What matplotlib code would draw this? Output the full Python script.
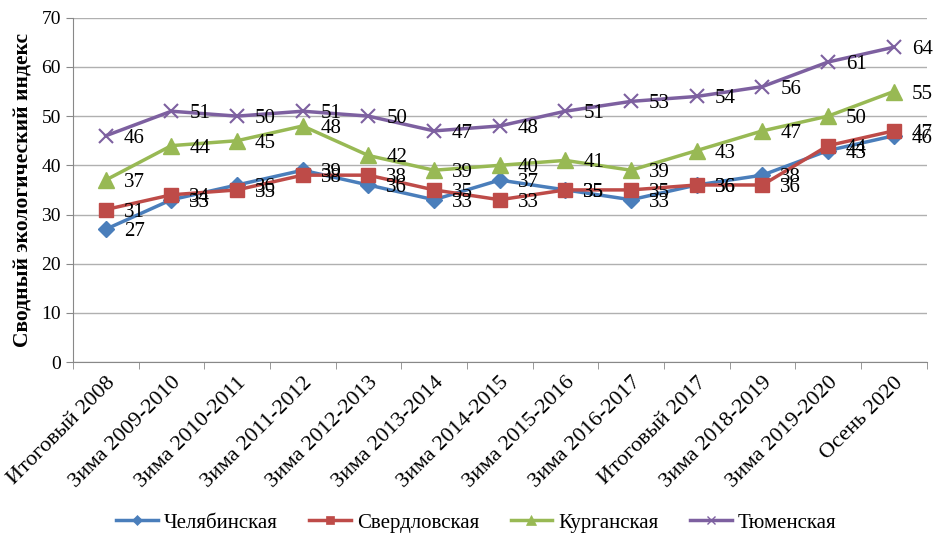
import matplotlib.pyplot as plt
import numpy as np

plt.rcParams['font.family'] = ['Liberation Serif', 'DejaVu Serif']

periods = ['Итоговый 2008', 'Зима 2009-2010', 'Зима 2010-2011', 'Зима 2011-2012',
           'Зима 2012-2013', 'Зима 2013-2014', 'Зима 2014-2015', 'Зима 2015-2016',
           'Зима 2016-2017', 'Итоговый 2017', 'Зима 2018-2019', 'Зима 2019-2020',
           'Осень 2020']
chel = [27, 33, 36, 39, 36, 33, 37, 35, 33, 36, 38, 43, 46]
sverd = [31, 34, 35, 38, 38, 35, 33, 35, 35, 36, 36, 44, 47]
kurgan = [37, 44, 45, 48, 42, 39, 40, 41, 39, 43, 47, 50, 55]
tyumen = [46, 51, 50, 51, 50, 47, 48, 51, 53, 54, 56, 61, 64]

series = [
    ('Челябинская', chel, '#4a7ebb', 'D', 8),
    ('Свердловская', sverd, '#be4b48', 's', 10),
    ('Курганская', kurgan, '#98b954', '^', 11),
    ('Тюменская', tyumen, '#7d60a0', 'x', 10),
]

fig = plt.figure(figsize=(9.34, 5.38), dpi=100)
ax = fig.add_axes([0.078, 0.327, 0.914, 0.64])
x = list(range(len(periods)))
handles = []
for name, vals, col, mk, ms in series:
    ax.plot(x, vals, color=col, lw=2.5, marker=mk, markersize=ms,
            markeredgewidth=1.5 if mk == 'x' else 1, markeredgecolor=col)
    h, = ax.plot([], [], color=col, lw=2.5, marker=mk, markersize=ms * 0.6,
                 markeredgewidth=1 if mk == 'x' else 0.5, markeredgecolor=col, label=name)
    handles.append(h)
    for xi, v in zip(x, vals):
        ax.annotate(str(v), (xi, v), xytext=(13, 0), textcoords='offset points',
                    fontsize=15, va='center_baseline', ha='left', color='black')

ax.set_xlim(-0.5, len(periods) - 0.5)
ax.set_ylim(0, 70)
ax.set_yticks(range(0, 71, 10))
ax.set_xticks(x)
ax.set_xticks(np.arange(-0.5, len(periods), 1), minor=True)
ax.set_xticklabels(periods, rotation=45, ha='right', rotation_mode='anchor', fontsize=16)
ax.tick_params(axis='y', labelsize=14, length=5, color='#888888')
ax.tick_params(axis='x', which='major', length=0, pad=8)
ax.tick_params(axis='x', which='minor', length=5, color='#888888')
ax.grid(axis='y', color='#b0b0b0', lw=1)
ax.set_axisbelow(True)
for s in ['top', 'right']:
    ax.spines[s].set_visible(False)
ax.spines['left'].set_color('#888888')
ax.spines['bottom'].set_color('#888888')
ax.set_ylabel('Сводный экологический индекс', fontsize=15.5, fontweight='bold', labelpad=6)

fig.legend(handles=handles, loc='lower center', ncol=4, frameon=False, fontsize=15,
           bbox_to_anchor=(0.51, -0.025), handlelength=2.0, handletextpad=0.3,
           columnspacing=1.5)
fig.savefig('out.png', dpi=100)
